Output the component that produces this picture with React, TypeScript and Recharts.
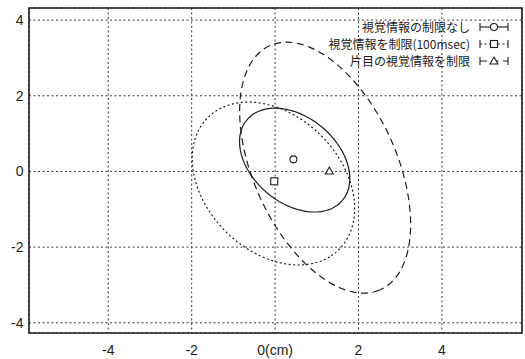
import React from "react";
import {
  ScatterChart, Scatter, XAxis, YAxis, CartesianGrid, ReferenceArea, Legend
} from "recharts";

// axis ranges and ticks
const X_DOMAIN = [-5.9, 5.92];
const Y_DOMAIN = [-4.27, 4.32];
const X_TICKS = [-4, -2, 0, 2, 4];
const Y_TICKS = [-4, -2, 0, 2, 4];

// three conditions
const NAMES = ["視覚情報の制限なし", "視覚情報を制限(100msec)", "片目の視覚情報を制限"];
// mean positions (markers)
const MEAN_X = [0.44, -0.02, 1.3];
const MEAN_Y = [0.32, -0.26, 0.01];
// ellipse parameters
const ELL_CX = [0.47, -0.04, 1.2];
const ELL_CY = [0.3, -0.32, 0.1];
const ELL_A = [1.57, 2.36, 3.49];
const ELL_B = [1.08, 1.69, 1.74];
const ELL_TILT = [-48, -54, -69];

const DASH = ["", "2 2.5", "7 4.5"];
const MARK = ["circle", "square", "triangle"];
const INK = "#1e1e1e";

function outline(i: number) {
  const n = 120;
  const th = (ELL_TILT[i] * Math.PI) / 180;
  const pts = [];
  for (let k = 0; k <= n; k++) {
    const t = (2 * Math.PI * k) / n;
    const u = ELL_A[i] * Math.cos(t);
    const v = ELL_B[i] * Math.sin(t);
    pts.push({
      x: ELL_CX[i] + u * Math.cos(th) - v * Math.sin(th),
      y: ELL_CY[i] + u * Math.sin(th) + v * Math.cos(th),
    });
  }
  return pts;
}

function Marker({ kind, cx, cy }: { kind: string; cx: number; cy: number }) {
  const s = { fill: "#fff", stroke: INK, strokeWidth: 1.1 };
  if (kind === "circle") return <circle cx={cx} cy={cy} r={3.5} {...s} />;
  if (kind === "square") return <rect x={cx - 3.5} y={cy - 3.5} width={7} height={7} {...s} />;
  return <polygon points={`${cx},${cy - 4} ${cx + 4},${cy + 3} ${cx - 4},${cy + 3}`} {...s} />;
}

function LegendBox() {
  return (
    <div style={{ fontFamily: "'Noto Sans CJK JP'", fontSize: 12, color: INK }}>
      {NAMES.map((n, i) => (
        <div key={n} style={{ display: "flex", justifyContent: "flex-end", alignItems: "center", height: 17 }}>
          <span style={{ lineHeight: "17px" }}>{n}</span>
          <svg width={30} height={14} style={{ marginLeft: 9 }}>
            <line x1={1} y1={7} x2={29} y2={7} stroke={INK} strokeWidth={1.1} strokeDasharray={DASH[i] || undefined} />
            <line x1={1} y1={3} x2={1} y2={11} stroke={INK} strokeWidth={1.1} />
            <line x1={29} y1={3} x2={29} y2={11} stroke={INK} strokeWidth={1.1} />
            <Marker kind={MARK[i]} cx={15} cy={7} />
          </svg>
        </div>
      ))}
    </div>
  );
}

const tickStyle = { fill: INK, fontSize: 14, fontFamily: "'Liberation Sans', Arial" };

export default function App() {
  return (
    <div style={{ position: "absolute", left: 0, top: 0, background: "#fff" }}>
      <ScatterChart width={525} height={359} margin={{ top: 8, right: 3, left: 0, bottom: 0 }}>
        <CartesianGrid stroke="#3a3a3a" strokeDasharray="2 2.5" strokeWidth={1} />
        <XAxis type="number" dataKey="x" domain={X_DOMAIN} ticks={X_TICKS} allowDataOverflow
          height={26} axisLine={false} tickLine={false} tickSize={8} tickMargin={4}
          tick={tickStyle} tickFormatter={(v: number) => (v === 0 ? "0(cm)" : String(v))} />
        <YAxis type="number" dataKey="y" domain={Y_DOMAIN} ticks={Y_TICKS} allowDataOverflow
          width={29} axisLine={false} tickLine={false} tickSize={4} tickMargin={1.5} tick={tickStyle} />
        <ReferenceArea x1={X_DOMAIN[0]} x2={X_DOMAIN[1]} y1={Y_DOMAIN[0]} y2={Y_DOMAIN[1]}
          fill="none" fillOpacity={0} stroke={INK} strokeWidth={1.6} ifOverflow="visible" />
        {NAMES.map((n, i) => (
          <Scatter key={"e" + i} data={outline(i)} isAnimationActive={false}
            line={{ stroke: INK, strokeWidth: 1.2, strokeDasharray: DASH[i] || undefined }}
            lineType="joint" shape={() => <g />} legendType="none" />
        ))}
        {NAMES.map((n, i) => (
          <Scatter key={"m" + i} name={n} data={[{ x: MEAN_X[i], y: MEAN_Y[i] }]} isAnimationActive={false}
            shape={(p: any) => <Marker kind={MARK[i]} cx={p.cx} cy={p.cy} />} />
        ))}
        <Legend layout="horizontal" align="center" verticalAlign="middle" content={() => <LegendBox />}
          wrapperStyle={{ top: 18, right: 16, left: "auto", width: "auto" }} />
      </ScatterChart>
    </div>
  );
}
